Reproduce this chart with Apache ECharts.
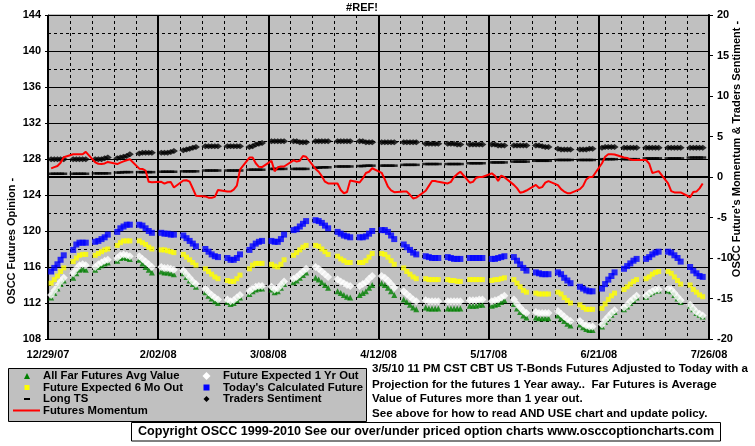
<!DOCTYPE html>
<html><head><meta charset="utf-8">
<script src="https://cdn.jsdelivr.net/npm/echarts@6/dist/echarts.min.js"></script>
<style>html,body{margin:0;padding:0;background:#fff}#c{width:755px;height:446px}</style>
</head><body><div id="c"></div>
<script>
// x tick labels (every 35 days from 12/29/07)
const xTickLabels = ['12/29/07','2/02/08','3/08/08','4/12/08','5/17/08','6/21/08','7/26/08'];
// 30 weeks x 5 data days (day offset from 12/29/07)
const days = [];
for (let k = 0; k < 30; k++) for (let j = 0; j < 5; j++) days.push(1 + 7 * k + j);

const todaysCalc = [
115.5,115.9,116.3,116.8,117.3, 117.9,118.5,118.7,118.7,118.7, 118.8,118.9,119.1,119.3,119.6, 119.9,120.3,120.5,120.7,120.7,
120.7,120.6,120.3,120.0,119.8, 119.8,119.7,119.7,119.6,119.6, 119.5,119.2,118.9,118.6,118.3, 118.0,117.7,117.4,117.2,117.1,
117.0,116.8,116.8,117.0,117.4, 117.9,118.3,118.6,118.8,118.9, 118.9,118.8,118.8,119.1,119.6, 120.1,120.2,120.5,120.8,121.1,
121.2,121.1,120.9,120.6,120.3, 119.9,119.7,119.5,119.4,119.3, 119.3,119.3,119.4,119.7,120.0, 120.1,120.1,119.9,119.5,119.1,
118.5,118.2,117.9,117.6,117.4, 117.2,117.1,117.0,117.0,117.0, 117.1,117.0,116.9,116.9,116.9, 117.0,117.0,117.0,117.0,117.0,
116.9,116.9,117.0,117.1,117.2, 117.1,116.7,116.3,115.9,115.6, 115.4,115.3,115.2,115.2,115.2, 115.4,115.2,114.8,114.5,114.2,
113.8,113.6,113.4,113.3,113.3, 113.6,114.1,114.6,115.0,115.4, 115.8,116.1,116.4,116.7,116.9, 116.9,117.1,117.4,117.6,117.7,
117.7,117.6,117.3,117.0,116.6, 116.0,115.6,115.3,115.0,114.9];

const sixMonth = [
114.2,114.6,115.0,115.5,115.9, 116.6,117.0,117.3,117.4,117.4, 117.3,117.5,117.7,117.9,118.0, 118.4,118.7,118.9,118.9,118.9,
118.9,118.7,118.5,118.2,118.0, 117.9,117.9,117.8,117.7,117.6, 117.4,117.1,116.8,116.5,116.2, 115.8,115.5,115.2,114.9,114.7,
114.5,114.4,114.4,114.7,115.1, 115.8,116.2,116.4,116.4,116.4, 116.3,116.1,116.0,116.3,116.8, 117.3,117.6,117.9,118.2,118.4,
118.4,118.3,118.0,117.7,117.4, 117.2,116.9,116.7,116.5,116.5, 116.5,116.5,116.7,117.1,117.5, 117.5,117.4,117.1,116.7,116.3,
115.9,115.5,115.2,114.9,114.7, 114.7,114.6,114.6,114.6,114.6, 114.6,114.5,114.5,114.4,114.4, 114.6,114.6,114.6,114.6,114.6,
114.5,114.6,114.6,114.7,114.8, 114.6,114.2,113.8,113.4,113.2, 113.1,113.0,113.0,113.0,113.0, 113.2,113.0,112.6,112.3,112.0,
111.8,111.5,111.3,111.3,111.3, 111.4,111.9,112.4,112.8,113.1, 113.5,113.8,114.1,114.4,114.6, 114.7,114.9,115.2,115.4,115.5,
115.5,115.3,114.9,114.5,114.1, 114.0,113.5,113.2,112.9,112.7];

const oneYear = [
112.9,113.4,113.9,114.4,114.8, 115.3,115.8,116.2,116.3,116.2, 116.0,116.3,116.5,116.7,116.8, 117.0,117.3,117.4,117.3,117.2,
117.2,116.9,116.6,116.3,116.0, 116.0,115.9,115.9,115.8,115.7, 115.6,115.2,114.8,114.4,114.1, 113.6,113.2,112.9,112.6,112.4,
112.4,112.2,112.3,112.6,112.9, 113.3,113.6,113.8,113.9,113.9, 113.8,113.5,113.6,114.0,114.4, 114.7,114.9,115.2,115.5,115.8,
116.0,115.8,115.5,115.2,114.9, 114.6,114.4,114.2,114.0,113.9, 113.9,114.1,114.3,114.7,115.0, 115.0,114.8,114.5,114.1,113.7,
113.3,113.0,112.7,112.4,112.2, 112.3,112.2,112.2,112.2,112.2, 112.2,112.2,112.2,112.2,112.2, 112.3,112.3,112.3,112.4,112.4,
112.2,112.3,112.4,112.6,112.8, 112.4,111.9,111.5,111.1,110.9, 111.0,110.9,110.9,110.9,110.9, 111.1,110.8,110.5,110.2,110.0,
110.0,109.7,109.5,109.4,109.4, 109.6,110.1,110.5,110.9,111.2, 111.5,111.8,112.2,112.5,112.8, 112.8,113.1,113.3,113.5,113.5,
113.6,113.5,113.1,112.7,112.3, 111.8,111.4,111.0,110.8,110.6];

const farAvg = [
112.6,113.1,113.6,114.1,114.5, 114.8,115.3,115.7,115.8,115.7, 115.7,116.0,116.2,116.4,116.5, 116.7,117.0,117.1,117.0,116.9,
116.8,116.4,116.0,115.7,115.4, 115.5,115.4,115.4,115.3,115.2, 115.3,114.9,114.5,114.1,113.8, 113.2,112.8,112.5,112.2,112.0,
112.1,111.9,112.0,112.3,112.6, 113.0,113.3,113.5,113.6,113.6, 113.5,113.2,113.3,113.7,114.1, 114.3,114.5,114.8,115.1,115.4,
114.8,114.6,114.3,114.0,113.7, 113.3,113.1,112.9,112.7,112.6, 112.9,113.1,113.3,113.7,114.0, 114.2,114.0,113.7,113.3,112.9,
112.4,112.1,111.8,111.5,111.3, 111.5,111.4,111.4,111.4,111.4, 111.4,111.4,111.4,111.4,111.4, 111.7,111.7,111.7,111.8,111.8,
111.7,111.8,111.9,112.1,112.3, 111.9,111.4,111.0,110.6,110.4, 110.4,110.3,110.3,110.3,110.3, 110.6,110.3,110.0,109.7,109.5,
109.6,109.3,109.1,109.0,109.0, 109.4,109.9,110.3,110.7,111.0, 111.3,111.6,112.0,112.3,112.6, 112.7,113.0,113.2,113.4,113.4,
113.4,113.3,112.9,112.5,112.1, 111.7,111.3,110.9,110.7,110.5];

const tradersSentiment = [
2.2,2.2,2.2,2.2,2.2, 2.2,2.2,2.2,2.2,2.2, 2.2,2.2,2.2,2.3,2.4, 2.3,2.4,2.5,2.6,2.8, 2.9,3.0,3.0,3.0,3.0,
3.0,3.0,3.0,3.1,3.2, 3.3,3.4,3.5,3.6,3.7, 3.8,3.8,3.8,3.8,3.8, 3.8,3.8,3.8,3.8,3.8, 3.7,3.8,4.0,4.1,4.2,
4.4,4.4,4.4,4.4,4.4, 4.4,4.4,4.3,4.3,4.3, 4.4,4.4,4.4,4.4,4.4, 4.4,4.4,4.4,4.4,4.4, 4.4,4.4,4.3,4.3,4.3,
4.3,4.3,4.3,4.3,4.3, 4.3,4.3,4.3,4.3,4.3, 4.1,4.1,4.1,4.1,4.1, 4.1,4.1,4.1,4.0,4.0, 4.0,4.0,4.0,4.0,4.0,
4.0,4.0,3.9,3.9,3.9, 3.9,3.9,3.9,3.9,3.9, 3.9,3.9,3.8,3.7,3.7, 3.5,3.4,3.4,3.4,3.4, 3.4,3.4,3.4,3.5,3.5,
3.6,3.7,3.7,3.7,3.7, 3.6,3.6,3.6,3.6,3.6, 3.6,3.6,3.6,3.6,3.6, 3.6,3.6,3.6,3.6,3.6, 3.6,3.6,3.6,3.6,3.6];

const longTS = [
0.4,0.4,0.4,0.4,0.4, 0.4,0.4,0.4,0.4,0.4, 0.45,0.45,0.45,0.45,0.45, 0.55,0.55,0.6,0.6,0.6, 0.6,0.6,0.6,0.6,0.6,
0.65,0.65,0.65,0.65,0.65, 0.7,0.7,0.7,0.7,0.7, 0.8,0.8,0.8,0.8,0.8, 0.8,0.8,0.8,0.8,0.8, 0.9,0.9,0.9,0.9,0.9,
1.0,1.0,1.0,1.0,1.0, 1.0,1.0,1.0,1.0,1.0, 1.15,1.15,1.2,1.2,1.2, 1.3,1.3,1.3,1.3,1.3, 1.35,1.35,1.4,1.4,1.4,
1.4,1.4,1.4,1.4,1.4, 1.5,1.5,1.5,1.5,1.5, 1.6,1.6,1.6,1.6,1.6, 1.6,1.6,1.6,1.6,1.6, 1.7,1.7,1.7,1.7,1.7,
1.8,1.8,1.8,1.8,1.8, 1.9,1.9,1.9,1.9,1.9, 2.0,2.0,2.0,2.0,2.0, 2.1,2.1,2.1,2.1,2.1, 2.1,2.1,2.1,2.1,2.1,
2.2,2.2,2.2,2.2,2.2, 2.2,2.2,2.2,2.2,2.2, 2.3,2.3,2.3,2.3,2.3, 2.3,2.3,2.3,2.3,2.3, 2.4,2.4,2.4,2.4,2.4];

const momentum = [
1.07,1.22,1.36,1.75,2.44, 2.8,2.8,2.8,2.8,3.1, 1.8,1.64,1.6,1.67,1.86, 1.6,1.78,1.93,2.07,2.2, 1.03,1.0,0.8,-0.6,-0.65,
-0.6,-0.82,-0.65,-0.63,-1.3, -0.44,-0.4,-0.57,-1.42,-2.3, -2.4,-2.55,-2.56,-2.45,-1.6, -1.8,-1.8,-1.55,-1.07,0.9, 2.4,2.4,1.7,1.26,1.22,
2.0,0.7,1.2,1.3,1.3, 2.05,1.9,2.0,2.6,2.5, 1.0,0.65,0.1,-0.58,-0.8, -0.8,-1.6,-2.0,-1.85,-0.42, -0.68,-0.17,0.5,0.65,1.08,
0.52,-0.3,-1.2,-1.65,-1.88, -1.8,-1.8,-2.2,-2.65,-2.55, -1.7,-1.1,-0.5,-0.5,-0.6, -0.8,-0.6,0.0,0.35,0.65, -0.7,-0.6,-0.1,0.0,0.0,
0.45,0.15,-0.5,0.18,-0.02, -0.97,-1.38,-1.95,-1.85,-1.67, -0.97,-1.36,-1.25,-0.7,-0.5, -1.0,-1.5,-1.8,-2.0,-2.0, -1.5,-1.1,-0.3,0.0,0.0,
1.7,2.5,2.8,2.8,2.77, 2.4,2.35,2.15,2.1,2.1, 2.1,1.65,0.5,0.6,0.72, -0.8,-1.75,-1.9,-1.9,-1.9, -2.5,-1.85,-1.8,-1.4,-0.8];

const pair = vals => vals.map((v, i) => [days[i], v]);
const FONT = "'Liberation Sans', Arial, sans-serif";
const bold = sz => 'bold ' + sz + 'px ' + FONT;

const chart = echarts.init(document.getElementById('c'), null, {renderer: 'canvas'});
chart.setOption({
  animation: false,
  backgroundColor: '#ffffff',
  grid: {left: 48, right: 46, top: 15, bottom: 107, show: true, backgroundColor: '#C0C0C0', borderColor: '#808080', borderWidth: 1},
  xAxis: {
    type: 'value', min: 0, max: 210, interval: 35,
    axisLine: {show: true, lineStyle: {color: '#000', width: 2}},
    axisTick: {show: true, inside: true, length: 3, lineStyle: {color: '#000'}},
    minorTick: {show: true, splitNumber: 5, length: 3, lineStyle: {color: '#000'}},
    splitLine: {show: true, lineStyle: {color: '#000', width: 2}},
    minorSplitLine: {show: true, lineStyle: {color: '#000', width: 1, type: [3, 3]}},
    axisLabel: {formatter: v => xTickLabels[Math.round(v / 35)] || '', color: '#000', fontFamily: FONT, fontWeight: 'bold', fontSize: 11, margin: 10}
  },
  yAxis: [{
    type: 'value', min: 108, max: 144, interval: 4, position: 'left',
    axisLine: {show: true, lineStyle: {color: '#000', width: 1}},
    axisTick: {show: true, length: 3, lineStyle: {color: '#000'}},
    splitLine: {show: true, lineStyle: {color: '#000', width: 1}},
    minorTick: {show: false, splitNumber: 2},
    minorSplitLine: {show: true, lineStyle: {color: '#000', width: 1, type: [3, 3]}},
    axisLabel: {color: '#000', fontFamily: FONT, fontWeight: 'bold', fontSize: 11, margin: 7}
  }, {
    type: 'value', min: -20, max: 20, interval: 5, position: 'right',
    axisLine: {show: true, lineStyle: {color: '#000', width: 2}},
    axisTick: {show: true, length: 4, lineStyle: {color: '#000'}},
    splitLine: {show: false},
    axisLabel: {color: '#000', fontFamily: FONT, fontWeight: 'bold', fontSize: 11, margin: 8}
  }],
  series: [
    {name: 'All Far Futures Avg Value', type: 'scatter', yAxisIndex: 0, symbol: 'triangle', symbolSize: 6,
     itemStyle: {color: '#008000'}, data: pair(farAvg)},
    {name: 'Future Expected 1 Yr Out', type: 'scatter', yAxisIndex: 0, symbol: 'diamond', symbolSize: 8,
     itemStyle: {color: '#ffffff'}, data: pair(oneYear)},
    {name: 'Future Expected 6 Mo Out', type: 'scatter', yAxisIndex: 0, symbol: 'rect', symbolSize: 5,
     itemStyle: {color: '#ffff00'}, data: pair(sixMonth)},
    {name: "Today's Calculated Future", type: 'scatter', yAxisIndex: 0, symbol: 'rect', symbolSize: 6,
     itemStyle: {color: '#0000ff'}, data: pair(todaysCalc)},
    {name: 'Futures Momentum', type: 'line', yAxisIndex: 1, symbol: 'none', clip: false,
     lineStyle: {color: '#ff0000', width: 2}, data: pair(momentum)},
    {name: 'Long TS', type: 'scatter', yAxisIndex: 1, symbol: 'rect', symbolSize: [7, 2.5],
     itemStyle: {color: '#000000'}, data: pair(longTS)},
    {name: 'Traders Sentiment', type: 'scatter', yAxisIndex: 1, symbol: 'diamond', symbolSize: [8, 6],
     itemStyle: {color: '#000000'}, data: pair(tradersSentiment)}
  ],
  graphic: [
    {type: 'text', x: 362, y: 8, style: {text: '#REF!', font: bold(11), fill: '#000', align: 'center', verticalAlign: 'middle'}},
    {type: 'text', x: 12, y: 241, rotation: Math.PI / 2, style: {text: 'OSCC Futures Opinion -', font: bold(11), fill: '#000', align: 'center', verticalAlign: 'middle'}},
    {type: 'text', x: 737, y: 149, rotation: Math.PI / 2, style: {text: "OSCC Future's Momentum & Traders Sentiment -", font: bold(11), fill: '#000', align: 'center', verticalAlign: 'middle'}},
    {type: 'rect', shape: {x: 8.5, y: 368.5, width: 358, height: 53}, style: {fill: '#C0C0C0', stroke: '#000', lineWidth: 1}},
    {type: 'polygon', shape: {points: [[27, 373], [30, 379], [24, 379]]}, style: {fill: '#008000'}},
    {type: 'rect', shape: {x: 24.5, y: 385, width: 5, height: 5}, style: {fill: '#ffff00'}},
    {type: 'rect', shape: {x: 24, y: 398, width: 6, height: 2}, style: {fill: '#000'}},
    {type: 'line', shape: {x1: 13, y1: 410.5, x2: 40, y2: 410.5}, style: {stroke: '#ff0000', lineWidth: 2}},
    {type: 'polygon', shape: {points: [[206.5, 372], [210.5, 376], [206.5, 380], [202.5, 376]]}, style: {fill: '#fff'}},
    {type: 'rect', shape: {x: 203.5, y: 384.5, width: 6, height: 6}, style: {fill: '#0000ff'}},
    {type: 'polygon', shape: {points: [[206.5, 396], [209.5, 399], [206.5, 402], [203.5, 399]]}, style: {fill: '#000'}},
    {type: 'text', x: 43, y: 376, style: {text: 'All Far Futures Avg Value', font: bold(11.3), fill: '#000', verticalAlign: 'middle'}},
    {type: 'text', x: 43, y: 387.5, style: {text: 'Future Expected 6 Mo Out', font: bold(11.3), fill: '#000', verticalAlign: 'middle'}},
    {type: 'text', x: 43, y: 399, style: {text: 'Long TS', font: bold(11.3), fill: '#000', verticalAlign: 'middle'}},
    {type: 'text', x: 43, y: 410.5, style: {text: 'Futures Momentum', font: bold(11.3), fill: '#000', verticalAlign: 'middle'}},
    {type: 'text', x: 223, y: 376, style: {text: 'Future Expected 1 Yr Out', font: bold(11.3), fill: '#000', verticalAlign: 'middle'}},
    {type: 'text', x: 223, y: 387.5, style: {text: "Today's Calculated Future", font: bold(11.3), fill: '#000', verticalAlign: 'middle'}},
    {type: 'text', x: 223, y: 399, style: {text: 'Traders Sentiment', font: bold(11.3), fill: '#000', verticalAlign: 'middle'}},
    {type: 'text', x: 372, y: 369, style: {text: '3/5/10 11 PM CST CBT US T-Bonds Futures Adjusted to Today with a', font: bold(11.6), fill: '#000', verticalAlign: 'middle'}},
    {type: 'text', x: 372, y: 384.5, style: {text: 'Projection for the futures 1 Year away..  Far Futures is Average', font: bold(11.6), fill: '#000', verticalAlign: 'middle'}},
    {type: 'text', x: 372, y: 399, style: {text: 'Value of Futures more than 1 year out.', font: bold(11.6), fill: '#000', verticalAlign: 'middle'}},
    {type: 'text', x: 372, y: 413.5, style: {text: 'See above for how to read AND USE chart and update policy.', font: bold(11.6), fill: '#000', verticalAlign: 'middle'}},
    {type: 'rect', shape: {x: 131.5, y: 422.5, width: 589, height: 18.5}, style: {fill: '#fff', stroke: '#000', lineWidth: 1}},
    {type: 'text', x: 426, y: 432, style: {text: 'Copyright OSCC 1999-2010 See our over/under priced option charts www.osccoptioncharts.com', font: bold(12.6), fill: '#000', align: 'center', verticalAlign: 'middle'}}
  ]
});
</script></body></html>
